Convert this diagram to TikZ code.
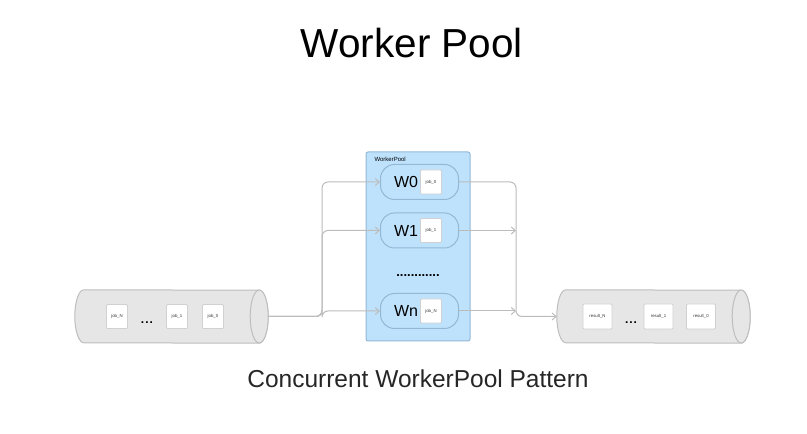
\documentclass[tikz,border=0pt]{standalone}
\usepackage{fontspec}
\setmainfont{Liberation Sans}
\usetikzlibrary{arrows.meta,positioning}
\definecolor{poolblue}{RGB}{191,226,252}
\definecolor{poolline}{RGB}{146,184,214}
\definecolor{queuegray}{RGB}{230,230,230}
\definecolor{queueline}{RGB}{190,190,190}
\definecolor{linkgray}{RGB}{188,188,188}
\tikzstyle{arrow} = [line width=1pt,-{Straight Barb[length=4pt,width=7pt]},color=linkgray,rounded corners=6pt]
\tikzstyle{worker} = [draw=poolline,fill=poolblue,line width=1pt,rounded corners=14pt,minimum width=78pt,minimum height=35pt,inner sep=0pt]
\tikzstyle{slot} = [draw=black!18,fill=white,line width=0.8pt,rounded corners=1pt,inner sep=0pt,text=black!80,font=\fontsize{4.3}{5}\selectfont]
\tikzstyle{queue} = [fill=queuegray,draw=queueline,line width=1pt]

\begin{document}
\begin{tikzpicture}[x=1pt,y=1pt]
\useasboundingbox (0,0) rectangle (807,434);
% Title and caption
\node[anchor=base,font=\fontsize{40.5}{48}\selectfont] (title) at (412,376) {Worker Pool};
\node[anchor=base,font=\fontsize{24.5}{29}\selectfont,text=black!85] (caption) at (418,46) {Concurrent WorkerPool Pattern};

% Job queue
\node[minimum width=193pt,minimum height=53pt,inner sep=0pt] (jobs) at (171.5,117.5) {};
\draw[queue] ([xshift=9pt]jobs.north west) arc[start angle=90,end angle=270,x radius=9,y radius=26.5] -- ([xshift=-9pt]jobs.south east) arc[start angle=-90,end angle=90,x radius=9,y radius=26.5] -- cycle;
\draw[queue] ([xshift=-9pt]jobs.east) ellipse[x radius=9,y radius=26.5];
\node[slot,minimum width=21pt,minimum height=24pt] (jobN) at (117,117.5) {job\_N};
\node[slot,minimum width=21pt,minimum height=24pt] (job1) at (177,117.5) {job\_1};
\node[slot,minimum width=21pt,minimum height=24pt] (job0) at (213,117.5) {job\_0};
\node[anchor=base,font=\bfseries\fontsize{12}{14}\selectfont] (jobdots) at (147,110) {.\kern1pt.\kern1pt.};

% Result queue
\node[minimum width=193pt,minimum height=53pt,inner sep=0pt] (results) at (653.5,117.5) {};
\draw[queue] ([xshift=9pt]results.north west) arc[start angle=90,end angle=270,x radius=9,y radius=26.5] -- ([xshift=-9pt]results.south east) arc[start angle=-90,end angle=90,x radius=9,y radius=26.5] -- cycle;
\draw[queue] ([xshift=-9pt]results.east) ellipse[x radius=9,y radius=26.5];
\node[slot,minimum width=29pt,minimum height=25pt] (resN) at (597.5,117.5) {result\_N};
\node[slot,minimum width=29pt,minimum height=25pt] (res1) at (658.5,117.5) {result\_1};
\node[slot,minimum width=29pt,minimum height=25pt] (res0) at (701,117.5) {result\_0};
\node[anchor=base,font=\bfseries\fontsize{12}{14}\selectfont] (resdots) at (631,110) {.\kern1pt.\kern1pt.};

% Worker pool
\node[draw=poolline,fill=poolblue,line width=1pt,rounded corners=2pt,minimum width=104pt,minimum height=189pt,inner sep=0pt] (pool) at (418,187.5) {};
\node[anchor=base west,font=\fontsize{6}{7}\selectfont] (poollabel) at (371,272) {WorkerPool};

\node[worker] (w0) at (419.5,252) {};
\node[font=\fontsize{16}{19}\selectfont] (w0name) at ([xshift=-13.5pt]w0.center) {W0};
\node[slot,minimum width=21pt,minimum height=24pt] (w0job) at ([xshift=11.5pt]w0.center) {job\_0};

\node[worker] (w1) at (419.5,203.5) {};
\node[font=\fontsize{16}{19}\selectfont] (w1name) at ([xshift=-13.5pt]w1.center) {W1};
\node[slot,minimum width=21pt,minimum height=24pt] (w1job) at ([xshift=11.5pt]w1.center) {job\_1};

\node[anchor=base,font=\bfseries\fontsize{13}{15}\selectfont] (pooldots) at (418,157) {............};

\node[worker] (wn) at (419.5,123) {};
\node[font=\fontsize{16}{19}\selectfont] (wnname) at ([xshift=-13.5pt]wn.center) {Wn};
\node[slot,minimum width=21pt,minimum height=24pt] (wnjob) at ([xshift=11.5pt]wn.center) {job\_N};

% Fan out and fan in
\coordinate (split) at (322,117.5);
\coordinate (merge) at (516,117.5);
\draw[arrow] (jobs.east) -- (split) |- (w0.west);
\draw[arrow] (jobs.east) -- (split) |- (w1.west);
\draw[arrow] (jobs.east) -- (split) |- (wn.west);
\draw[arrow] (w0.east) -| (merge) -- (results.west);
\draw[arrow] (w1.east) -- (w1.east -| merge);
\draw[arrow] (wn.east) -- (wn.east -| merge);
\end{tikzpicture}
\end{document}
